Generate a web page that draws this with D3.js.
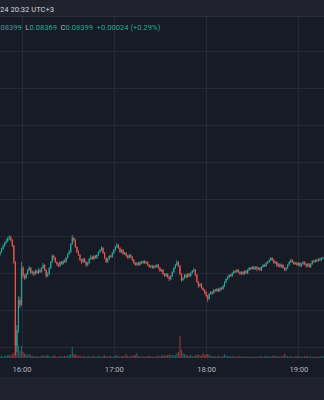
<!DOCTYPE html>
<html lang="en">
<head>
<meta charset="utf-8">
<title>Candles</title>
<style>
  body, html { margin: 0; padding: 0; background: #171b26; }
  svg { display: block; }
  .axis text { font-family: Roboto, "Liberation Sans", sans-serif; font-size: 7.6px; fill: #b2b5be; }
  .legend text, .header text { font-family: Roboto, "Liberation Sans", sans-serif; font-size: 7.6px; }
</style>
<script src="https://cdn.jsdelivr.net/npm/d3@7"></script>
</head>
<body>
<svg id="chart" width="324" height="400"></svg>
<script>
// 1 minute candles, 15:46 -> 19:16
var startTime = new Date(2024, 2, 12, 15, 46);
var endTime = new Date(2024, 2, 12, 19, 16);
var firstOpen = 0.083949;

var closes = [
  0.083957, 0.083965, 0.083973, 0.083981, 0.083986, 0.083995, 0.083997, 0.083989, 0.083973, 0.083930,
  0.083705, 0.083746, 0.083827, 0.083814, 0.083914, 0.083892, 0.083886, 0.083897, 0.083908, 0.083914,
  0.083900, 0.083903, 0.083897, 0.083905, 0.083900, 0.083908, 0.083903, 0.083914, 0.083922, 0.083908,
  0.083892, 0.083897, 0.083914, 0.083930, 0.083946, 0.083941, 0.083930, 0.083924, 0.083919, 0.083930,
  0.083924, 0.083932, 0.083930, 0.083941, 0.083951, 0.083957, 0.083978, 0.083995, 0.083989, 0.083970,
  0.083957, 0.083949, 0.083935, 0.083930, 0.083938, 0.083930, 0.083922, 0.083927, 0.083938, 0.083943,
  0.083938, 0.083946, 0.083941, 0.083949, 0.083957, 0.083962, 0.083968, 0.083954, 0.083941, 0.083930,
  0.083938, 0.083946, 0.083943, 0.083954, 0.083962, 0.083970, 0.083976, 0.083968, 0.083957, 0.083962,
  0.083951, 0.083954, 0.083946, 0.083941, 0.083949, 0.083943, 0.083935, 0.083927, 0.083922, 0.083927,
  0.083922, 0.083930, 0.083927, 0.083932, 0.083927, 0.083930, 0.083922, 0.083916, 0.083919, 0.083914,
  0.083919, 0.083916, 0.083922, 0.083914, 0.083905, 0.083908, 0.083897, 0.083892, 0.083897, 0.083889,
  0.083884, 0.083892, 0.083903, 0.083914, 0.083922, 0.083930, 0.083919, 0.083897, 0.083881, 0.083886,
  0.083895, 0.083889, 0.083897, 0.083892, 0.083900, 0.083905, 0.083908, 0.083895, 0.083876, 0.083865,
  0.083870, 0.083859, 0.083854, 0.083849, 0.083838, 0.083830, 0.083843, 0.083849, 0.083846, 0.083854,
  0.083851, 0.083857, 0.083851, 0.083859, 0.083857, 0.083865, 0.083876, 0.083884, 0.083889, 0.083895,
  0.083892, 0.083900, 0.083905, 0.083903, 0.083908, 0.083903, 0.083897, 0.083903, 0.083897, 0.083905,
  0.083900, 0.083908, 0.083914, 0.083911, 0.083916, 0.083911, 0.083916, 0.083911, 0.083914, 0.083908,
  0.083916, 0.083922, 0.083919, 0.083927, 0.083930, 0.083935, 0.083941, 0.083935, 0.083927, 0.083930,
  0.083919, 0.083924, 0.083916, 0.083922, 0.083914, 0.083908, 0.083914, 0.083922, 0.083930, 0.083935,
  0.083930, 0.083924, 0.083927, 0.083922, 0.083927, 0.083919, 0.083924, 0.083930, 0.083924, 0.083919,
  0.083924, 0.083916, 0.083924, 0.083932, 0.083930, 0.083935, 0.083932, 0.083938, 0.083935, 0.083941, 0.083941
];

var highs = [
  0.083959, 0.083968, 0.083978, 0.083984, 0.083992, 0.083997, 0.084003, 0.084000, 0.083992, 0.083976,
  0.083932, 0.083759, 0.083838, 0.083835, 0.083930, 0.083919, 0.083897, 0.083900, 0.083911, 0.083919,
  0.083916, 0.083908, 0.083905, 0.083911, 0.083908, 0.083914, 0.083911, 0.083916, 0.083927, 0.083924,
  0.083911, 0.083903, 0.083916, 0.083932, 0.083951, 0.083949, 0.083943, 0.083932, 0.083927, 0.083932,
  0.083932, 0.083935, 0.083938, 0.083943, 0.083954, 0.083962, 0.083981, 0.084003, 0.083997, 0.083992,
  0.083973, 0.083962, 0.083951, 0.083938, 0.083941, 0.083941, 0.083932, 0.083930, 0.083941, 0.083949,
  0.083946, 0.083949, 0.083949, 0.083951, 0.083959, 0.083965, 0.083973, 0.083970, 0.083957, 0.083943,
  0.083941, 0.083949, 0.083949, 0.083957, 0.083965, 0.083973, 0.083981, 0.083978, 0.083970, 0.083965,
  0.083965, 0.083957, 0.083957, 0.083949, 0.083951, 0.083951, 0.083946, 0.083938, 0.083930, 0.083930,
  0.083930, 0.083932, 0.083932, 0.083935, 0.083935, 0.083932, 0.083932, 0.083924, 0.083922, 0.083922,
  0.083922, 0.083922, 0.083924, 0.083924, 0.083916, 0.083911, 0.083911, 0.083900, 0.083900, 0.083900,
  0.083892, 0.083895, 0.083905, 0.083916, 0.083924, 0.083935, 0.083932, 0.083922, 0.083900, 0.083889,
  0.083897, 0.083897, 0.083900, 0.083900, 0.083903, 0.083908, 0.083914, 0.083911, 0.083897, 0.083878,
  0.083873, 0.083873, 0.083862, 0.083857, 0.083851, 0.083841, 0.083846, 0.083851, 0.083851, 0.083857,
  0.083857, 0.083859, 0.083859, 0.083862, 0.083862, 0.083868, 0.083878, 0.083886, 0.083892, 0.083897,
  0.083897, 0.083903, 0.083908, 0.083908, 0.083911, 0.083911, 0.083905, 0.083905, 0.083905, 0.083908,
  0.083908, 0.083911, 0.083916, 0.083916, 0.083919, 0.083919, 0.083919, 0.083919, 0.083916, 0.083916,
  0.083919, 0.083924, 0.083924, 0.083930, 0.083932, 0.083938, 0.083943, 0.083943, 0.083938, 0.083932,
  0.083932, 0.083927, 0.083927, 0.083924, 0.083924, 0.083916, 0.083916, 0.083924, 0.083932, 0.083938,
  0.083938, 0.083932, 0.083930, 0.083930, 0.083930, 0.083930, 0.083927, 0.083932, 0.083932, 0.083927,
  0.083927, 0.083927, 0.083927, 0.083935, 0.083935, 0.083938, 0.083938, 0.083941, 0.083941, 0.083943, 0.083943
];

var lows = [
  0.083946, 0.083954, 0.083962, 0.083970, 0.083978, 0.083984, 0.083989, 0.083986, 0.083970, 0.083924,
  0.083678, 0.083686, 0.083738, 0.083805, 0.083811, 0.083886, 0.083881, 0.083884, 0.083895, 0.083905,
  0.083897, 0.083895, 0.083892, 0.083895, 0.083897, 0.083897, 0.083900, 0.083900, 0.083911, 0.083905,
  0.083886, 0.083889, 0.083895, 0.083911, 0.083927, 0.083935, 0.083927, 0.083919, 0.083916, 0.083916,
  0.083922, 0.083922, 0.083927, 0.083927, 0.083938, 0.083949, 0.083954, 0.083976, 0.083984, 0.083968,
  0.083954, 0.083946, 0.083932, 0.083924, 0.083927, 0.083927, 0.083916, 0.083919, 0.083924, 0.083935,
  0.083935, 0.083935, 0.083938, 0.083938, 0.083946, 0.083954, 0.083959, 0.083951, 0.083938, 0.083927,
  0.083927, 0.083935, 0.083941, 0.083941, 0.083951, 0.083959, 0.083968, 0.083965, 0.083954, 0.083954,
  0.083949, 0.083949, 0.083943, 0.083938, 0.083938, 0.083941, 0.083932, 0.083924, 0.083919, 0.083919,
  0.083919, 0.083919, 0.083924, 0.083924, 0.083924, 0.083924, 0.083919, 0.083914, 0.083914, 0.083911,
  0.083911, 0.083914, 0.083914, 0.083911, 0.083903, 0.083903, 0.083895, 0.083889, 0.083889, 0.083886,
  0.083878, 0.083881, 0.083889, 0.083900, 0.083911, 0.083919, 0.083916, 0.083895, 0.083876, 0.083878,
  0.083884, 0.083886, 0.083886, 0.083889, 0.083889, 0.083897, 0.083903, 0.083892, 0.083873, 0.083859,
  0.083862, 0.083857, 0.083851, 0.083843, 0.083835, 0.083822, 0.083827, 0.083841, 0.083841, 0.083843,
  0.083849, 0.083849, 0.083849, 0.083849, 0.083854, 0.083854, 0.083862, 0.083873, 0.083881, 0.083886,
  0.083889, 0.083889, 0.083897, 0.083900, 0.083900, 0.083900, 0.083895, 0.083895, 0.083895, 0.083895,
  0.083897, 0.083897, 0.083905, 0.083908, 0.083908, 0.083908, 0.083908, 0.083905, 0.083908, 0.083905,
  0.083905, 0.083914, 0.083916, 0.083916, 0.083924, 0.083927, 0.083932, 0.083932, 0.083924, 0.083924,
  0.083916, 0.083916, 0.083914, 0.083914, 0.083911, 0.083905, 0.083905, 0.083911, 0.083919, 0.083927,
  0.083927, 0.083922, 0.083922, 0.083919, 0.083919, 0.083916, 0.083916, 0.083922, 0.083922, 0.083914,
  0.083916, 0.083914, 0.083914, 0.083922, 0.083927, 0.083927, 0.083930, 0.083930, 0.083932, 0.083932, 0.083938
];

var volumes = [
  18, 22, 15, 25, 20, 28, 30, 24, 35, 55,
  400, 210, 130, 75, 120, 60, 45, 38, 30, 42,
  26, 22, 18, 15, 20, 12, 16, 25, 28, 19,
  24, 30, 21, 14, 18, 26, 17, 12, 15, 20,
  13, 18, 22, 16, 25, 30, 38, 110, 45, 35,
  28, 20, 24, 15, 18, 22, 12, 16, 20, 14,
  18, 25, 12, 15, 20, 17, 13, 22, 26, 18,
  14, 16, 20, 12, 15, 24, 28, 18, 14, 16,
  22, 18, 40, 20, 15, 18, 22, 25, 30, 48,
  20, 15, 12, 18, 14, 16, 20, 22, 18, 15,
  12, 14, 18, 20, 16, 24, 28, 22, 26, 30,
  35, 28, 30, 25, 32, 45, 60, 220, 85, 50,
  38, 30, 25, 22, 28, 20, 18, 26, 32, 35,
  28, 24, 50, 30, 35, 40, 32, 22, 18, 20,
  15, 18, 22, 16, 14, 20, 38, 25, 20, 18,
  15, 22, 14, 16, 12, 18, 20, 15, 13, 16,
  12, 14, 18, 10, 12, 15, 11, 14, 12, 16,
  18, 13, 15, 20, 22, 14, 16, 18, 24, 20,
  15, 18, 14, 16, 22, 40, 22, 18, 15, 20,
  14, 12, 16, 18, 13, 15, 12, 14, 18, 16,
  20, 12, 15, 13, 11, 14, 16, 12, 15, 18, 20
];

var headerText = "24 20:32 UTC+3";
var legendNames = ["", "L", "C", ""];
var legendValues = ["08399", "0.08369", "0.08399", "+0.00024 (+0.29%)"];

var width = 324, height = 400,
    headerH = 16,
    plotTop = 17,
    volBase = 358,
    axisBottom = 377;

var upColor = "#26a69a", downColor = "#ef5350";
var upVol = "rgba(38,166,154,0.5)", downVol = "rgba(239,83,80,0.5)";

var svg = d3.select("#chart");

// backgrounds
svg.append("rect").attr("width", width).attr("height", height).attr("fill", "#171b26");
svg.append("rect").attr("width", width).attr("height", headerH).attr("fill", "#20232d");
svg.append("rect").attr("y", axisBottom).attr("width", width).attr("height", height - axisBottom).attr("fill", "#20232d");
svg.append("line").attr("x1", 0).attr("x2", width).attr("y1", headerH + 0.5).attr("y2", headerH + 0.5)
    .attr("stroke", "#2a2e39");

var x = d3.scaleTime().domain([startTime, endTime]).range([0, 323]);

var y = d3.scaleLinear().domain([0.0837, 0.0840]).range([347, 236]);
var gridPrices = y.copy().domain([y.invert(volBase), y.invert(plotTop)]).ticks(10);

var yVol = d3.scaleLinear().domain([0, 400]).range([volBase, 318]);

// grid
var grid = svg.append("g").attr("stroke", "#252935").attr("stroke-width", 1);
grid.selectAll("line.h").data(gridPrices).enter().append("line")
    .attr("class", "h")
    .attr("x1", 0).attr("x2", width)
    .attr("y1", function(d) { return Math.round(y(d)) + 0.5; })
    .attr("y2", function(d) { return Math.round(y(d)) + 0.5; });
grid.selectAll("line.v").data(x.ticks(d3.timeHour.every(1))).enter().append("line")
    .attr("class", "v")
    .attr("y1", plotTop).attr("y2", volBase)
    .attr("x1", function(d) { return Math.round(x(d)) + 0.5; })
    .attr("x2", function(d) { return Math.round(x(d)) + 0.5; });

var candles = closes.map(function(c, i) {
    var o = i === 0 ? firstOpen : closes[i - 1];
    return { t: d3.timeMinute.offset(startTime, i), o: o, h: highs[i], l: lows[i], c: c, v: volumes[i], up: c >= o };
});

// volume
svg.append("g").selectAll("rect").data(candles).enter().append("rect")
    .attr("x", function(d) { return x(d.t) - 0.6; })
    .attr("width", 1.2)
    .attr("y", function(d) { return yVol(d.v); })
    .attr("height", function(d) { return volBase - yVol(d.v); })
    .attr("fill", function(d) { return d.up ? upVol : downVol; });

// candles
var cg = svg.append("g");
cg.selectAll("line").data(candles).enter().append("line")
    .attr("x1", function(d) { return x(d.t); })
    .attr("x2", function(d) { return x(d.t); })
    .attr("y1", function(d) { return y(d.h); })
    .attr("y2", function(d) { return y(d.l); })
    .attr("stroke-width", 0.8)
    .attr("stroke", function(d) { return d.up ? upColor : downColor; });
cg.selectAll("rect").data(candles).enter().append("rect")
    .attr("x", function(d) { return x(d.t) - 0.6; })
    .attr("width", 1.2)
    .attr("y", function(d) { return y(Math.max(d.o, d.c)); })
    .attr("height", function(d) { return Math.max(0.8, Math.abs(y(d.o) - y(d.c))); })
    .attr("fill", function(d) { return d.up ? upColor : downColor; });

// time axis
var xAxis = d3.axisBottom(x).ticks(d3.timeHour.every(1)).tickSize(0).tickFormat(d3.timeFormat("%H:%M"));
var ax = svg.append("g").attr("class", "axis").attr("transform", "translate(0,364)").call(xAxis);
ax.select(".domain").remove();
ax.selectAll("text").attr("font-family", null).attr("font-size", null).attr("dy", "0.6em");

// header
svg.append("g").attr("class", "header").append("text")
    .attr("x", 0).attr("y", 11.5)
    .attr("fill", "#d1d4dc")
    .text(headerText);

// OHLC legend
var lt = svg.append("g").attr("class", "legend").append("text")
    .attr("x", 0.5).attr("y", 30);
legendNames.forEach(function(n, i) {
    var gap = i === 0 ? 0 : 3.5;
    if (n) {
        lt.append("tspan").attr("fill", "#b2b5be").attr("dx", gap).text(n);
        gap = 0;
    }
    lt.append("tspan").attr("fill", upColor).attr("dx", gap).text(legendValues[i]);
});
</script>
</body>
</html>
